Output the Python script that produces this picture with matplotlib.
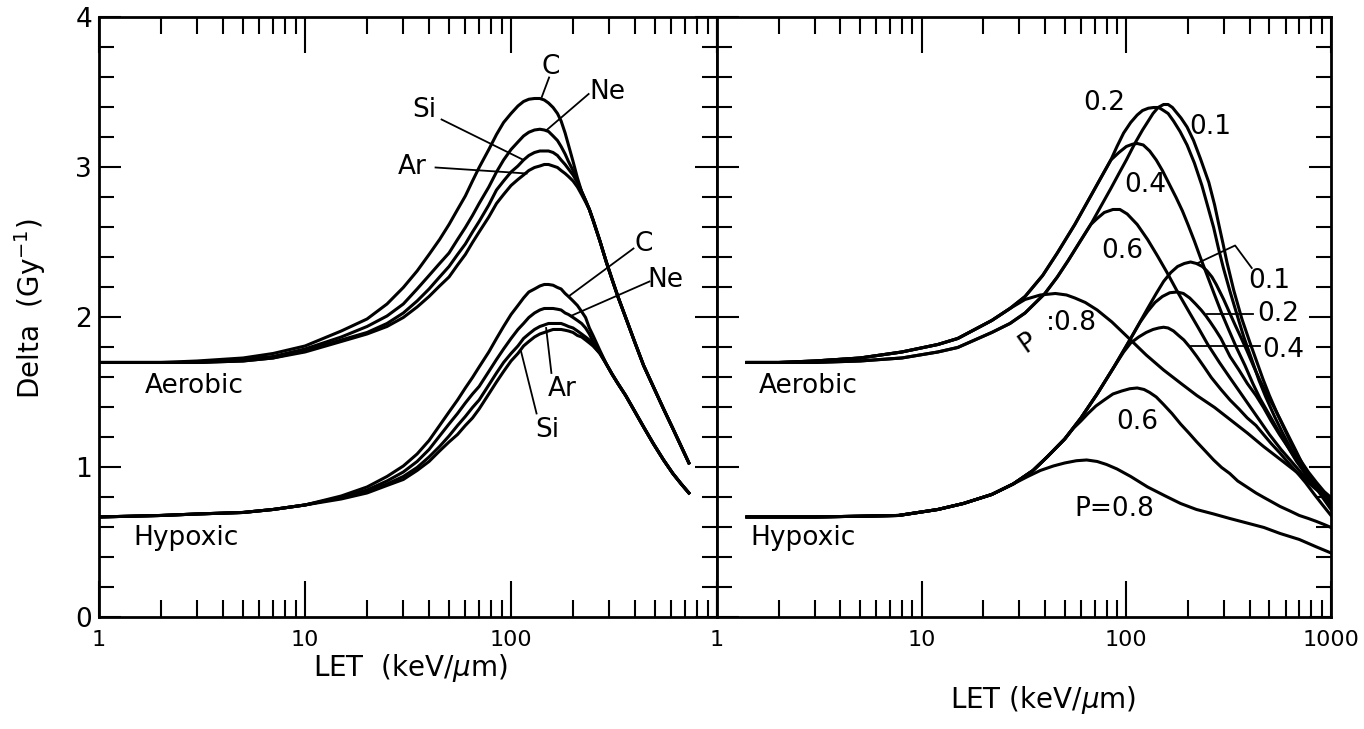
import numpy as np
import matplotlib
matplotlib.use("Agg")
import matplotlib.pyplot as plt
from matplotlib.ticker import LogLocator, MultipleLocator, NullFormatter, FuncFormatter

plt.rcParams['font.family'] = ['DejaVu Sans']

# ---------------- panel izquierdo: iones C, Ne, Si, Ar ----------------
let_izq = [1, 2, 3, 5, 7, 10, 15, 20, 25, 30, 35, 40, 45, 50, 55, 60, 65, 70, 78, 85, 92, 100,
           108, 115, 122, 130, 138, 145, 152, 160, 168, 175, 183, 190, 200, 210, 220, 230, 240,
           250, 270, 290, 310, 330, 360, 400, 440, 490, 550, 610, 670, 730]

aer_C  = [1.70, 1.70, 1.71, 1.73, 1.76, 1.81, 1.91, 1.99, 2.09, 2.20, 2.31, 2.42, 2.52, 2.62, 2.72, 2.81,
          2.91, 3.00, 3.12, 3.22, 3.30, 3.36, 3.41, 3.44, 3.455, 3.46, 3.46, 3.45, 3.43, 3.40, 3.36, 3.31,
          3.23, 3.15, 3.04, 2.93, 2.84, 2.78, 2.72, 2.65, 2.51, 2.37, 2.25, 2.14, 2.00, 1.83, 1.68, 1.54,
          1.39, 1.26, 1.14, 1.03]
aer_Ne = [1.70, 1.70, 1.70, 1.72, 1.74, 1.79, 1.87, 1.94, 2.01, 2.09, 2.19, 2.28, 2.36, 2.43, 2.52, 2.60,
          2.68, 2.76, 2.87, 2.97, 3.05, 3.12, 3.17, 3.21, 3.235, 3.25, 3.255, 3.25, 3.24, 3.21, 3.18, 3.14,
          3.09, 3.04, 2.98, 2.91, 2.84, 2.78, 2.72, 2.65, 2.51, 2.37, 2.25, 2.14, 2.00, 1.83, 1.68, 1.54,
          1.39, 1.26, 1.14, 1.03]
aer_Si = [1.70, 1.70, 1.70, 1.71, 1.73, 1.78, 1.85, 1.90, 1.96, 2.03, 2.11, 2.19, 2.27, 2.34, 2.42, 2.49,
          2.57, 2.64, 2.75, 2.85, 2.91, 2.97, 3.01, 3.05, 3.08, 3.10, 3.11, 3.11, 3.11, 3.10, 3.08, 3.05,
          3.02, 2.99, 2.95, 2.90, 2.84, 2.78, 2.72, 2.65, 2.51, 2.37, 2.25, 2.14, 2.00, 1.83, 1.68, 1.54,
          1.39, 1.26, 1.14, 1.03]
aer_Ar = [1.70, 1.70, 1.70, 1.71, 1.73, 1.77, 1.84, 1.89, 1.94, 2.00, 2.07, 2.14, 2.21, 2.27, 2.35, 2.42,
          2.50, 2.57, 2.67, 2.76, 2.82, 2.88, 2.92, 2.95, 2.98, 3.00, 3.01, 3.02, 3.02, 3.01, 3.00, 2.98,
          2.96, 2.94, 2.91, 2.87, 2.82, 2.77, 2.72, 2.65, 2.51, 2.37, 2.25, 2.14, 2.00, 1.83, 1.68, 1.54,
          1.39, 1.26, 1.14, 1.03]

hip_C  = [0.67, 0.68, 0.69, 0.70, 0.72, 0.75, 0.81, 0.87, 0.94, 1.01, 1.09, 1.18, 1.28, 1.37, 1.45, 1.53,
          1.60, 1.67, 1.77, 1.86, 1.94, 2.02, 2.08, 2.13, 2.17, 2.19, 2.21, 2.22, 2.22, 2.215, 2.20, 2.19,
          2.16, 2.14, 2.11, 2.08, 2.04, 2.00, 1.93, 1.88, 1.78, 1.69, 1.62, 1.56, 1.48, 1.37, 1.27, 1.16,
          1.05, 0.96, 0.89, 0.83]
hip_Ne = [0.67, 0.68, 0.69, 0.70, 0.72, 0.75, 0.80, 0.85, 0.91, 0.97, 1.04, 1.12, 1.21, 1.29, 1.36, 1.43,
          1.49, 1.54, 1.64, 1.72, 1.79, 1.86, 1.92, 1.96, 2.00, 2.03, 2.05, 2.06, 2.06, 2.06, 2.055, 2.05,
          2.03, 2.02, 2.00, 1.98, 1.96, 1.93, 1.89, 1.84, 1.77, 1.69, 1.62, 1.56, 1.48, 1.37, 1.27, 1.16,
          1.05, 0.96, 0.89, 0.83]
hip_Ar = [0.67, 0.68, 0.69, 0.70, 0.72, 0.75, 0.80, 0.84, 0.89, 0.94, 1.00, 1.07, 1.14, 1.21, 1.28, 1.34,
          1.40, 1.45, 1.55, 1.63, 1.70, 1.76, 1.81, 1.86, 1.89, 1.92, 1.94, 1.95, 1.96, 1.96, 1.96, 1.96,
          1.95, 1.94, 1.93, 1.91, 1.89, 1.87, 1.85, 1.82, 1.76, 1.69, 1.62, 1.56, 1.48, 1.37, 1.27, 1.16,
          1.05, 0.96, 0.89, 0.83]
hip_Si = [0.67, 0.68, 0.69, 0.70, 0.72, 0.75, 0.79, 0.83, 0.88, 0.92, 0.98, 1.04, 1.11, 1.17, 1.22, 1.28,
          1.33, 1.39, 1.49, 1.57, 1.64, 1.71, 1.76, 1.81, 1.84, 1.87, 1.89, 1.90, 1.91, 1.92, 1.92, 1.92,
          1.915, 1.91, 1.90, 1.88, 1.87, 1.85, 1.83, 1.81, 1.76, 1.69, 1.62, 1.56, 1.48, 1.37, 1.27, 1.16,
          1.05, 0.96, 0.89, 0.83]

# ---------------- panel derecho: fraccion P ----------------
aer_01_x = [1.4, 2, 3, 5, 8, 12, 15, 22, 27, 32, 40, 46, 52, 59, 67, 75, 84, 92, 100, 110, 120, 128,
            135, 143, 152, 160, 168, 175, 185, 198, 213, 230, 253, 270, 283, 297, 310, 335, 367, 400,
            430, 465, 500, 550, 600, 650, 700, 775, 850, 925, 1000]
aer_01_y = [1.70, 1.70, 1.70, 1.71, 1.73, 1.77, 1.80, 1.90, 1.96, 2.03, 2.16, 2.27, 2.38, 2.50, 2.62, 2.74,
            2.86, 2.96, 3.05, 3.16, 3.25, 3.31, 3.36, 3.40, 3.42, 3.42, 3.40, 3.37, 3.33, 3.27, 3.18, 3.06,
            2.90, 2.75, 2.62, 2.49, 2.37, 2.18, 1.99, 1.84, 1.72, 1.59, 1.48, 1.35, 1.24, 1.14, 1.06, 0.97,
            0.90, 0.84, 0.80]
aer_02_x = [1.4, 2, 3, 5, 8, 12, 15, 22, 27, 32, 39, 46, 56, 67, 75, 84, 90, 97, 105, 113, 120, 128,
            136, 144, 152, 160, 170, 183, 198, 215, 234, 250, 267, 282, 298, 320, 347, 375, 410, 445,
            480, 530, 580, 640, 700, 775, 850, 925, 1000]
aer_02_y = [1.70, 1.70, 1.71, 1.73, 1.77, 1.82, 1.86, 1.98, 2.06, 2.14, 2.28, 2.43, 2.62, 2.81, 2.93, 3.05,
            3.14, 3.23, 3.30, 3.35, 3.38, 3.395, 3.40, 3.40, 3.38, 3.36, 3.31, 3.24, 3.15, 3.03, 2.88, 2.74,
            2.60, 2.46, 2.33, 2.18, 2.02, 1.87, 1.72, 1.58, 1.47, 1.34, 1.23, 1.12, 1.04, 0.95, 0.88, 0.83,
            0.79]
aer_04_x = [1.4, 2, 3, 5, 8, 12, 15, 22, 27, 32, 39, 46, 56, 67, 75, 84, 92, 100, 107, 113, 121, 130,
            140, 150, 162, 175, 188, 200, 215, 230, 250, 270, 292, 316, 345, 380, 415, 450, 500, 550,
            620, 700, 775, 850, 925, 1000]
aer_04_y = [1.70, 1.70, 1.71, 1.73, 1.77, 1.82, 1.86, 1.98, 2.06, 2.14, 2.28, 2.43, 2.62, 2.81, 2.93, 3.05,
            3.10, 3.14, 3.155, 3.16, 3.15, 3.11, 3.05, 2.98, 2.89, 2.80, 2.71, 2.62, 2.51, 2.40, 2.27, 2.15,
            2.03, 1.92, 1.80, 1.68, 1.56, 1.46, 1.35, 1.25, 1.13, 1.02, 0.93, 0.87, 0.81, 0.77]
aer_06_x = [1.4, 2, 3, 5, 8, 12, 15, 22, 27, 32, 40, 46, 52, 59, 67, 72, 78, 86, 93, 101, 113, 127,
            142, 158, 178, 200, 225, 250, 285, 320, 360, 400, 450, 500, 570, 650, 720, 800, 900, 1000]
aer_06_y = [1.70, 1.70, 1.70, 1.71, 1.73, 1.77, 1.80, 1.90, 1.96, 2.03, 2.16, 2.27, 2.38, 2.50, 2.62, 2.66,
            2.70, 2.72, 2.72, 2.69, 2.62, 2.52, 2.41, 2.30, 2.17, 2.05, 1.93, 1.82, 1.70, 1.60, 1.50, 1.41,
            1.31, 1.22, 1.12, 1.03, 0.96, 0.90, 0.83, 0.78]
aer_08_x = [1.4, 2, 3, 5, 8, 12, 15, 22, 27, 32, 38, 45, 51, 56, 63, 72, 85, 105, 125, 152, 185, 221,
            270, 321, 390, 468, 570, 678, 819, 1000]
aer_08_y = [1.70, 1.70, 1.71, 1.73, 1.77, 1.82, 1.86, 1.98, 2.06, 2.12, 2.15, 2.16, 2.15, 2.13, 2.10, 2.05,
            1.97, 1.85, 1.75, 1.65, 1.56, 1.48, 1.40, 1.32, 1.23, 1.14, 1.05, 0.97, 0.87, 0.77]

hip_01_x = [1.4, 2, 3, 5, 7.7, 12, 16, 22, 28, 35, 41, 50, 60, 72, 87, 105, 127, 140, 152, 165, 178,
            192, 206, 220, 235, 248, 262, 275, 299, 320, 340, 365, 388, 420, 450, 485, 523, 570, 620,
            675, 733, 850, 1000]
hip_01_y = [0.67, 0.67, 0.67, 0.675, 0.68, 0.72, 0.76, 0.82, 0.89, 0.98, 1.07, 1.19, 1.33, 1.49, 1.67, 1.86,
            2.06, 2.16, 2.24, 2.30, 2.34, 2.36, 2.37, 2.36, 2.34, 2.31, 2.27, 2.22, 2.12, 2.03, 1.95, 1.86,
            1.78, 1.67, 1.58, 1.49, 1.41, 1.31, 1.21, 1.11, 1.01, 0.88, 0.74]
hip_02_x = [1.4, 2, 3, 5, 7.7, 12, 16, 22, 28, 35, 41, 50, 60, 72, 87, 105, 117, 127, 138, 150, 163,
            177, 190, 204, 218, 232, 245, 257, 272, 290, 321, 355, 390, 430, 468, 510, 560, 620, 679,
            750, 830, 910, 1000]
hip_02_y = [0.67, 0.67, 0.67, 0.675, 0.68, 0.72, 0.76, 0.82, 0.89, 0.98, 1.07, 1.19, 1.33, 1.49, 1.67, 1.86,
            1.97, 2.04, 2.10, 2.14, 2.165, 2.17, 2.16, 2.13, 2.09, 2.05, 2.01, 1.97, 1.92, 1.86, 1.74, 1.65,
            1.56, 1.48, 1.40, 1.31, 1.22, 1.13, 1.04, 0.96, 0.88, 0.80, 0.72]
hip_04_x = [1.4, 2, 3, 5, 7.7, 12, 16, 22, 28, 35, 41, 50, 60, 72, 87, 97, 105, 115, 125, 135, 144,
            152, 160, 170, 180, 191, 205, 221, 240, 260, 290, 321, 355, 390, 430, 468, 510, 560, 620,
            679, 750, 830, 910, 1000]
hip_04_y = [0.67, 0.67, 0.67, 0.675, 0.68, 0.72, 0.76, 0.82, 0.89, 0.98, 1.07, 1.19, 1.33, 1.49, 1.67, 1.77,
            1.83, 1.87, 1.90, 1.92, 1.93, 1.935, 1.93, 1.91, 1.88, 1.85, 1.80, 1.74, 1.67, 1.60, 1.52, 1.45,
            1.39, 1.33, 1.28, 1.22, 1.16, 1.10, 1.03, 0.97, 0.90, 0.82, 0.75, 0.68]
hip_06_x = [1.4, 2, 3, 5, 7.7, 12, 16, 22, 28, 35, 41, 50, 55, 60, 65, 71, 78, 86, 95, 104, 113, 122,
            130, 140, 152, 167, 184, 202, 221, 243, 267, 292, 320, 350, 388, 430, 470, 515, 564, 630,
            700, 775, 850, 925, 1000]
hip_06_y = [0.67, 0.67, 0.67, 0.675, 0.68, 0.72, 0.76, 0.82, 0.89, 0.98, 1.07, 1.19, 1.26, 1.31, 1.36, 1.41,
            1.45, 1.49, 1.51, 1.525, 1.53, 1.52, 1.50, 1.47, 1.42, 1.36, 1.29, 1.23, 1.17, 1.11, 1.05, 1.00,
            0.96, 0.91, 0.87, 0.83, 0.80, 0.77, 0.74, 0.71, 0.68, 0.66, 0.64, 0.62, 0.60]
hip_08_x = [1.4, 2, 3, 5, 7.7, 12, 16, 22, 28, 33, 38, 44, 50, 57, 64, 72, 80, 90, 105, 127, 155,
            184, 220, 267, 320, 388, 470, 564, 700, 850, 1000]
hip_08_y = [0.67, 0.67, 0.67, 0.675, 0.68, 0.72, 0.76, 0.82, 0.89, 0.94, 0.98, 1.01, 1.03, 1.045, 1.05, 1.04,
            1.02, 0.99, 0.94, 0.87, 0.81, 0.76, 0.72, 0.69, 0.66, 0.63, 0.60, 0.56, 0.52, 0.47, 0.43]

LW = 2.2
FS = 19

fig = plt.figure(figsize=(13.64, 7.29), dpi=100)
ax1 = fig.add_axes([0.0726, 0.153, 0.4531, 0.823])
ax2 = fig.add_axes([0.5257, 0.153, 0.4501, 0.823])

for y in [aer_C, aer_Ne, aer_Si, aer_Ar, hip_C, hip_Ne, hip_Ar, hip_Si]:
    ax1.plot(let_izq, y, color='black', lw=LW)

for x, y in [(aer_01_x, aer_01_y), (aer_02_x, aer_02_y), (aer_04_x, aer_04_y), (aer_06_x, aer_06_y),
             (aer_08_x, aer_08_y), (hip_01_x, hip_01_y), (hip_02_x, hip_02_y), (hip_04_x, hip_04_y),
             (hip_06_x, hip_06_y), (hip_08_x, hip_08_y)]:
    ax2.plot(x, y, color='black', lw=LW)

# ejes
for ax in (ax1, ax2):
    ax.set_xscale('log')
    ax.set_xlim(1, 1000)
    ax.set_ylim(0, 4)
    ax.xaxis.set_major_locator(LogLocator(base=10, numticks=10))
    ax.xaxis.set_minor_locator(LogLocator(base=10, subs=np.arange(2, 10), numticks=10))
    ax.xaxis.set_minor_formatter(NullFormatter())
    ax.yaxis.set_major_locator(MultipleLocator(1))
    ax.yaxis.set_minor_locator(MultipleLocator(0.2))
    ax.tick_params(axis='x', which='major', direction='in', length=26, width=1.5,
                   top=True, labelsize=16, pad=9)
    ax.tick_params(axis='x', which='minor', direction='in', length=12, width=1.5, top=True)
    ax.tick_params(axis='y', which='major', direction='in', length=16, width=1.5,
                   right=True, labelsize=19, pad=5)
    ax.tick_params(axis='y', which='minor', direction='in', length=11, width=1.5, right=True)
    for s in ax.spines.values():
        s.set_linewidth(2)

ax1.xaxis.set_major_formatter(FuncFormatter(lambda v, p: '' if v >= 1000 else '%d' % round(v)))
ax2.xaxis.set_major_formatter(FuncFormatter(lambda v, p: '%d' % round(v)))
ax2.tick_params(axis='y', labelleft=False)

fig.text(0.022, 0.577, r'Delta  (Gy$^{-1}$)', fontsize=20, rotation=90, ha='center', va='center')
fig.text(0.301, 0.083, r'LET  (keV/$\mu$m)', fontsize=20, ha='center', va='center')
fig.text(0.765, 0.040, r'LET (keV/$\mu$m)', fontsize=20, ha='center', va='center')

# etiquetas panel izquierdo: (texto, x, y, linea x0, y0, x1, y1)
etiq_izq = [('C', 156, 3.67, 141, 3.47, 153, 3.60),
            ('Ne', 292, 3.50, 149, 3.25, 238, 3.49),
            ('Si', 38, 3.38, 46, 3.32, 115, 3.05),
            ('Ar', 33, 3.00, 43, 3.00, 119, 2.96),
            ('C', 442, 2.49, 393, 2.46, 190, 2.14),
            ('Ne', 560, 2.25, 470, 2.24, 195, 2.01),
            ('Ar', 178, 1.52, 157, 1.63, 148, 1.93),
            ('Si', 150, 1.25, 133, 1.36, 112, 1.77)]
for t, tx, ty, x0, y0, x1, y1 in etiq_izq:
    ax1.text(tx, ty, t, fontsize=FS, ha='center', va='center')
    ax1.plot([x0, x1], [y0, y1], color='black', lw=1.3)
ax1.text(1.66, 1.545, 'Aerobic', fontsize=FS, ha='left', va='center')
ax1.text(1.46, 0.53, 'Hypoxic', fontsize=FS, ha='left', va='center')

# etiquetas panel derecho
for t, tx, ty in [('0.2', 78, 3.43), ('0.1', 257, 3.27), ('0.4', 124, 2.88), ('0.6', 96, 2.44),
                  ('0.1', 502, 2.24), ('0.2', 553, 2.02), ('0.4', 585, 1.78), ('0.6', 113, 1.30),
                  ('P=0.8', 87, 0.72)]:
    ax2.text(tx, ty, t, fontsize=FS, ha='center', va='center')
ax2.text(33, 1.83, 'P', fontsize=FS, ha='center', va='center', rotation=35)
ax2.text(54, 1.96, ':0.8', fontsize=FS, ha='center', va='center')
ax2.plot([221, 340, 410], [2.36, 2.48, 2.33], color='black', lw=1.3)
ax2.plot([248, 418], [2.02, 2.02], color='black', lw=1.3)
ax2.plot([206, 450], [1.81, 1.81], color='black', lw=1.3)
ax2.text(1.6, 1.545, 'Aerobic', fontsize=FS, ha='left', va='center')
ax2.text(1.46, 0.53, 'Hypoxic', fontsize=FS, ha='left', va='center')

fig.savefig('out.png', dpi=100)
